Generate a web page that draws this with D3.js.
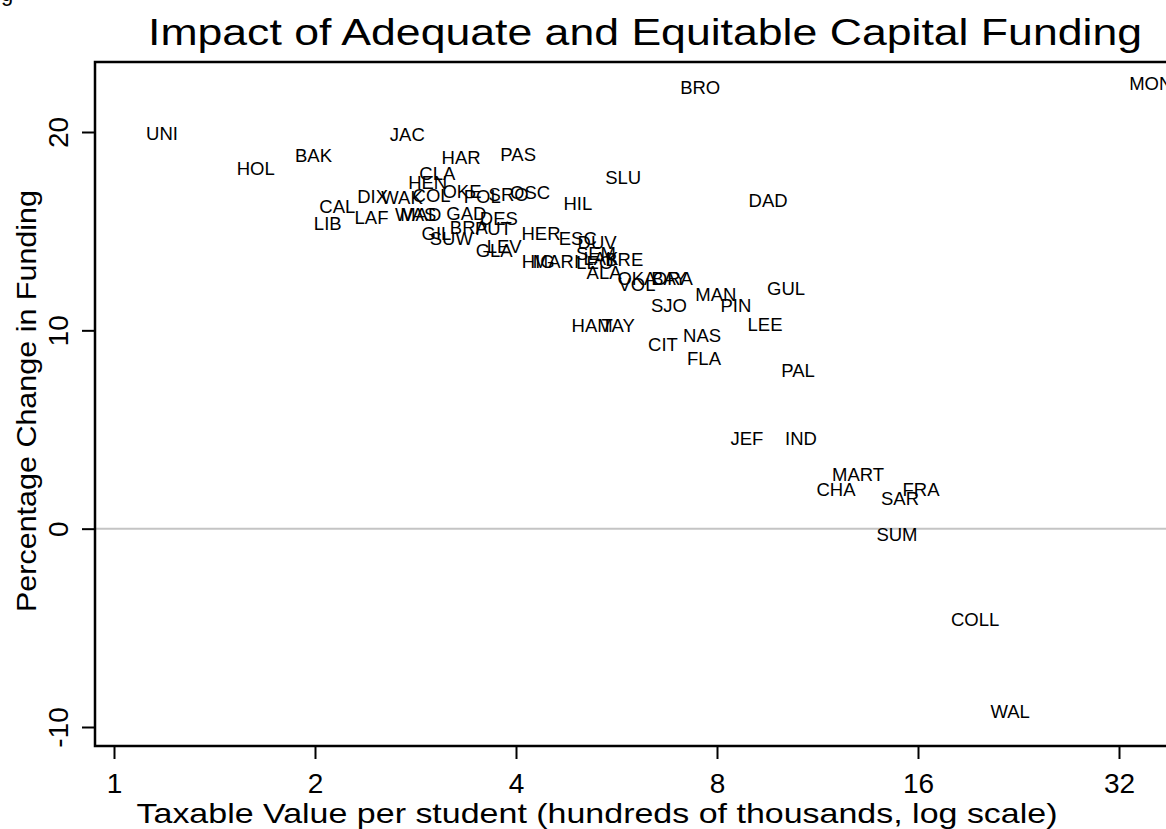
<!DOCTYPE html>
<html>
<head>
<meta charset="utf-8">
<script src="https://cdn.jsdelivr.net/npm/d3@7"></script>
<style>
body{margin:0;background:#fff;}
svg{display:block;font-family:"Liberation Sans",Arial,Helvetica,sans-serif;}
</style>
</head>
<body>
<div id="chart"></div>
<script>
// county codes, taxable value per student (hundreds of thousands), % change in funding
var counties=["UNI","HOL","BAK","JAC","HAR","PAS","BRO","MON","SLU","DAD","HIL","CLA","HEN","DIX","WAK","COL","OKE","POL","SRO","OSC",
"CAL","LAF","LIB","WAS","MAD","GAD","DES","GIL","BRA","PUT","SUW","GLA","LEV","HER","ESC","DUV","SEM","HIG","MARI","LEO",
"LAK","BRE","ALA","OKA","VOL","BAY","ORA","SJO","MAN","PIN","GUL","LEE","HAM","TAY","NAS","CIT","FLA","PAL","JEF","IND",
"MART","CHA","FRA","SAR","SUM","COLL","WAL"];
var taxValue=[1.18,1.63,1.99,2.75,3.31,4.03,7.55,35.7,5.79,9.54,4.95,3.05,2.95,2.44,2.70,2.99,3.32,3.56,3.90,4.20,
2.16,2.43,2.09,2.83,2.88,3.37,3.77,3.04,3.40,3.70,3.20,3.71,3.84,4.36,4.95,5.29,5.27,4.32,4.59,5.25,
5.36,5.81,5.42,6.07,6.07,6.78,6.87,6.78,7.97,8.54,10.15,9.44,5.20,5.69,7.60,6.64,7.65,10.58,8.87,10.69,
13.01,12.06,16.17,15.04,14.88,19.48,21.98];
var pctChange=[19.95,18.19,18.84,19.90,18.74,18.87,22.27,22.47,17.73,16.57,16.42,17.91,17.48,16.75,16.73,16.83,17.03,16.78,16.88,16.98,
16.27,15.72,15.37,15.87,15.87,15.92,15.67,14.91,15.21,15.16,14.66,14.01,14.21,14.89,14.66,14.46,13.88,13.50,13.50,13.45,
13.65,13.60,12.90,12.64,12.34,12.64,12.64,11.28,11.84,11.28,12.14,10.28,10.23,10.23,9.77,9.27,8.61,7.96,4.53,4.53,
2.75,1.99,1.97,1.51,-0.28,-4.58,-9.22];
var xTicks=[1,2,4,8,16,32];
var yTicks=[-10,0,10,20];

width=1166;
height=829;
var plot={left:95,right:1166,top:62,bottom:746};

var svg=d3.select("#chart").append("svg").attr("width",width).attr("height",height);

var x=d3.scaleLog().base(2).domain([1,32]).range([114,1119]);
var y=d3.scaleLinear().domain([-10,20]).range([727,132]);

// zero reference line
svg.append("line")
	.attr("x1",plot.left).attr("x2",plot.right)
	.attr("y1",y(0)).attr("y2",y(0))
	.attr("stroke","#c4c4c4").attr("stroke-width",2);

// frame lines
svg.append("path")
	.attr("d","M"+plot.right+","+plot.top+"H"+plot.left+"V"+plot.bottom+"H"+plot.right)
	.attr("fill","none").attr("stroke","#000").attr("stroke-width",2.5);

// x axis
var gx=svg.append("g").attr("transform","translate(0,"+plot.bottom+")")
	.call(d3.axisBottom(x).tickValues(xTicks).tickSize(13).tickFormat(function(d){return String(d);}));
gx.select(".domain").remove();
gx.selectAll(".tick line").attr("stroke","#000").attr("stroke-width",2);
gx.selectAll(".tick text").attr("y",47).attr("dy",0)
	.attr("font-size",28).attr("fill","#000")
	.attr("font-family","Liberation Sans,Arial,sans-serif");

// y axis
var gy=svg.append("g").attr("transform","translate("+plot.left+",0)")
	.call(d3.axisLeft(y).tickValues(yTicks).tickSize(13).tickFormat(function(d){return String(d);}));
gy.select(".domain").remove();
gy.selectAll(".tick line").attr("stroke","#000").attr("stroke-width",2);
gy.selectAll(".tick text")
	.attr("transform","rotate(-90)")
	.attr("x",0).attr("y",-27).attr("dy",0)
	.attr("text-anchor","middle")
	.attr("font-size",28).attr("fill","#000")
	.attr("font-family","Liberation Sans,Arial,sans-serif");

// county labels
svg.append("g").selectAll("text").data(counties).enter()
	.append("text")
	.text(function(d){return d;})
	.attr("x",function(d,i){return x(taxValue[i]);})
	.attr("y",function(d,i){return y(pctChange[i]);})
	.attr("dy","0.36em")
	.attr("text-anchor","middle")
	.attr("font-size",18.5)
	.attr("fill","#000");

// titles
svg.append("text").text("Impact of Adequate and Equitable Capital Funding")
	.attr("x",645).attr("y",45).attr("text-anchor","middle")
	.attr("font-size",37).attr("fill","#000")
	.attr("textLength",994).attr("lengthAdjust","spacingAndGlyphs");

svg.append("text").text("Taxable Value per student (hundreds of thousands, log scale)")
	.attr("x",597).attr("y",823).attr("text-anchor","middle")
	.attr("font-size",28).attr("fill","#000")
	.attr("textLength",921).attr("lengthAdjust","spacingAndGlyphs");

svg.append("text").text("Percentage Change in Funding")
	.attr("transform","translate(36,401) rotate(-90)")
	.attr("text-anchor","middle")
	.attr("font-size",28).attr("fill","#000")
	.attr("textLength",422).attr("lengthAdjust","spacingAndGlyphs");

// cropped remnant of a caption above the figure
svg.append("text").text("g").attr("x",1).attr("y",1)
	.attr("font-size",22).attr("fill","#000");
</script>
</body>
</html>
